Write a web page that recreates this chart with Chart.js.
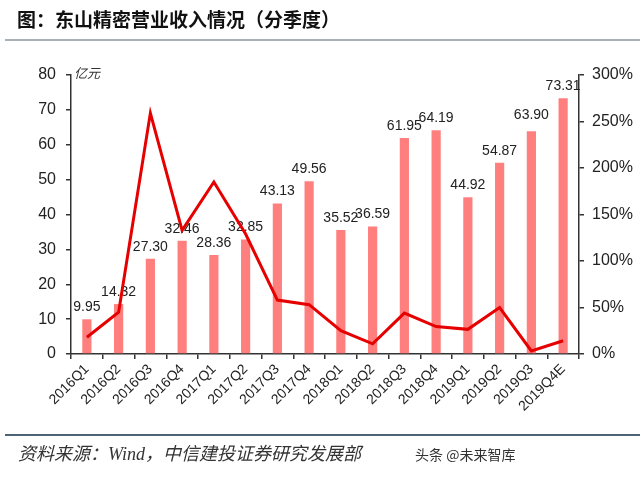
<!DOCTYPE html>
<html>
<head>
<meta charset="utf-8">
<script src="https://cdn.jsdelivr.net/npm/chart.js@4"></script>
<style>
  html, body { margin:0; padding:0; background:#fff; }
  #wrap { position:relative; width:640px; height:484px; overflow:hidden; background:#fff; }
  #c { position:absolute; left:0; top:0; }
  .title { position:absolute; left:17px; top:6px; font-family:"Noto Sans CJK SC", sans-serif; font-weight:bold; font-size:19px; color:#111; line-height:26px; white-space:nowrap; }
  .rule1 { position:absolute; left:5px; right:0; top:39px; height:2px; background:#a9b0b6; }
  .rule2 { position:absolute; left:5px; right:0; top:434px; height:2px; background:#4d6375; }
  .unit { position:absolute; left:74px; top:64px; font-family:"Noto Sans CJK SC", sans-serif; font-style:italic; font-size:13px; color:#333; line-height:18px; }
  .src { position:absolute; left:18px; top:441px; font-family:"Liberation Serif", "Noto Sans CJK SC", serif; font-style:italic; font-size:18px; color:#333; line-height:26px; white-space:nowrap; }
  .wm { position:absolute; left:415px; top:444px; font-family:"Noto Sans CJK SC", sans-serif; font-size:14px; color:#333; line-height:20px; white-space:nowrap; }
</style>
</head>
<body>
<div id="wrap">
  <canvas id="c" width="640" height="484"></canvas>
  <div class="title">图：东山精密营业收入情况（分季度）</div>
  <div class="rule1"></div>
  <div class="unit">亿元</div>
  <div class="rule2"></div>
  <div class="src">资料来源：Wind，中信建投证券研究发展部</div>
  <div class="wm">头条 @未来智库</div>
</div>
<script>
const categories = ["2016Q1","2016Q2","2016Q3","2016Q4","2017Q1","2017Q2","2017Q3","2017Q4","2018Q1","2018Q2","2018Q3","2018Q4","2019Q1","2019Q2","2019Q3","2019Q4E"];
const revenue = [9.95,14.32,27.30,32.46,28.36,32.85,43.13,49.56,35.52,36.59,61.95,64.19,44.92,54.87,63.90,73.31];
const growthPct = [18,45,259,133,185,129,58,53,25,11,44,29.5,26.5,50,3.3,14.2];
const leftTicks = [0,10,20,30,40,50,60,70,80];
const rightTicks = [0,50,100,150,200,250,300];

Chart.defaults.font.family = "'Liberation Sans', Arial, sans-serif";
Chart.defaults.color = "#222";

const labelPlugin = {
  id: 'barLabels',
  afterDatasetDraw(chart, args) {
    if (args.meta.type !== 'bar') return;
    const ctx = chart.ctx;
    ctx.save();
    ctx.font = "14px 'Liberation Sans', Arial, sans-serif";
    ctx.fillStyle = "#222";
    ctx.textAlign = "center";
    ctx.textBaseline = "bottom";
    args.meta.data.forEach((bar, i) => {
      const extra = (i === 14) ? 4 : 0;
      ctx.fillText(revenue[i].toFixed(2), bar.x, bar.y - 5 - extra);
    });
    ctx.restore();
  }
};

new Chart(document.getElementById('c'), {
  data: {
    labels: categories,
    datasets: [
      {
        type: 'line',
        data: growthPct,
        yAxisID: 'y1',
        borderColor: '#e60000',
        borderWidth: 3,
        pointRadius: 0,
        tension: 0,
        fill: false,
        order: 0
      },
      {
        type: 'bar',
        data: revenue,
        yAxisID: 'y',
        backgroundColor: '#ff7f7f',
        borderWidth: 0,
        barPercentage: 0.29,
        categoryPercentage: 1.0,
        order: 1
      }
    ]
  },
  options: {
    responsive: false,
    devicePixelRatio: 1,
    animation: false,
    layout: { padding: { left: 0, right: 0, top: 75, bottom: 0 } },
    plugins: { legend: { display: false }, tooltip: { enabled: false } },
    scales: {
      x: {
        offset: true,
        grid: { display: true, drawOnChartArea: false, offset: true, tickLength: 5, color: '#333', lineWidth: 1.5 },
        border: { display: true, color: '#333', width: 1.5 },
        ticks: { autoSkip: false, minRotation: 45, maxRotation: 45, padding: 2, font: { size: 14 }, color: '#222' },
        afterFit(scale) { scale.height = 130; }
      },
      y: {
        position: 'left',
        min: 0, max: 80,
        afterBuildTicks(scale) { scale.ticks = leftTicks.map(v => ({ value: v })); },
        grid: { drawOnChartArea: false, tickLength: 5, color: '#333', lineWidth: 1.5 },
        border: { display: true, color: '#333', width: 1.5 },
        ticks: { padding: 10, font: { size: 16 }, color: '#222' },
        afterFit(scale) { scale.width = 71; }
      },
      y1: {
        position: 'right',
        min: 0, max: 300,
        afterBuildTicks(scale) { scale.ticks = rightTicks.map(v => ({ value: v })); },
        grid: { drawOnChartArea: false, tickLength: 5, color: '#333', lineWidth: 1.5 },
        border: { display: true, color: '#333', width: 1.5 },
        ticks: { padding: 8, font: { size: 16 }, color: '#222', callback: v => v + '%' },
        afterFit(scale) { scale.width = 61; }
      }
    }
  },
  plugins: [labelPlugin]
});
</script>
</body>
</html>
